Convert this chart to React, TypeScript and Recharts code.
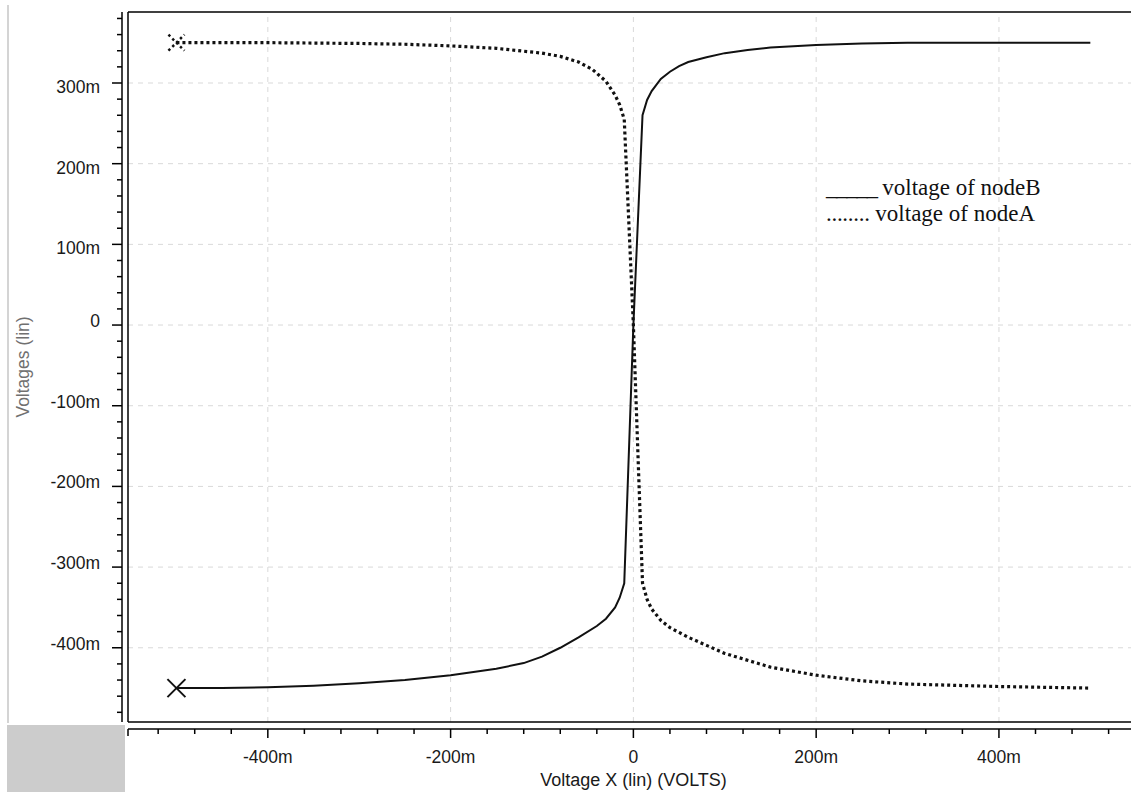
import React from 'react';
import { LineChart, Line, XAxis, YAxis, ReferenceLine } from 'recharts';

// ---- data (mV) ----
const nodeBX = [-500, -450, -400, -350, -300, -250, -200, -150, -120, -100, -80, -60, -40, -30, -20, -15, -10, 0, 10, 15, 20, 30, 40, 50, 60, 80, 100, 125, 150, 200, 250, 300, 400, 500];
const nodeBY = [-450, -450, -449, -447, -444, -440, -434, -426, -419, -411, -400, -387, -373, -364, -350, -338, -320, 0, 260, 279, 290, 305, 314, 321, 326, 332, 337, 341, 344, 347, 349, 350, 350, 350];

const nodeAX = [-500, -400, -300, -250, -200, -150, -100, -80, -60, -45, -30, -20, -15, -10, 0, 10, 15, 20, 30, 40, 50, 60, 80, 100, 150, 200, 250, 300, 400, 500];
const nodeAY = [350, 350, 349, 348, 346, 343, 337, 333, 326, 317, 302, 285, 273, 255, 0, -320, -340, -352, -366, -375, -381, -387, -397, -407, -424, -434, -441, -445, -448, -450];

const xDomain = [-553, 544.5];
const yDomain = [-492, 388];

const xTicks = [-520, -480, -440, -400, -360, -320, -280, -240, -200, -160, -120, -80, -40, 0, 40, 80, 120, 160, 200, 240, 280, 320, 360, 400, 440, 480, 520];
const xGridTicks = [-400, -200, 0, 200, 400];
const yTicks = [-480, -460, -440, -420, -400, -380, -360, -340, -320, -300, -280, -260, -240, -220, -200, -180, -160, -140, -120, -100, -80, -60, -40, -20, 0, 20, 40, 60, 80, 100, 120, 140, 160, 180, 200, 220, 240, 260, 280, 300, 320, 340, 360, 380];
const yGridTicks = [-400, -300, -200, -100, 0, 100, 200, 300];

const legendLabels = ['voltage of nodeB', 'voltage of nodeA'];
const xTitle = 'Voltage X (lin) (VOLTS)';
const yTitle = 'Voltages (lin)';

const nodeBData = nodeBX.map((x, i) => ({ x, y: nodeBY[i] }));
const nodeAData = nodeAX.map((x, i) => ({ x, y: nodeAY[i] }));

const SANS = '"Liberation Sans", Arial, sans-serif';
const SERIF = '"Liberation Serif", "Times New Roman", serif';
const GRID = '#d9d9d9';

const fmt = (v: number) => (v === 0 ? '0' : `${v}m`);

const XTick = (props: any) => {
  const { x, y, payload } = props;
  const v = payload.value;
  const edge = v === xDomain[0];
  const major = !edge && v % 200 === 0;
  const len = major ? 9 : edge ? 7 : 5;
  return (
    <g>
      <line x1={x} x2={x} y1={y} y2={y + len} stroke="#000" strokeWidth={1.5} />
      {major && (
        <text x={x} y={y + 34} textAnchor="middle" fontFamily={SANS} fontSize={17.5} fill="#1a1a1a">
          {fmt(v)}
        </text>
      )}
    </g>
  );
};

const YTick = (props: any) => {
  const { x, y, payload } = props;
  const v = payload.value;
  const major = v % 100 === 0;
  const len = major ? 10 : 5;
  return (
    <g>
      <line x1={x - len} x2={x} y1={y} y2={y} stroke="#000" strokeWidth={1.5} />
      {major && (
        <text
          x={x - 22}
          y={y + (v > 0 ? 4 : -4)}
          textAnchor="end"
          dominantBaseline="central"
          fontFamily={SANS}
          fontSize={17.5}
          fill="#1a1a1a"
        >
          {fmt(v)}
        </text>
      )}
    </g>
  );
};

const solidMarker = (props: any) => {
  const { cx, cy, index } = props;
  if (index !== 0) return <g key={`b${index}`} />;
  return (
    <g key="bmark">
      <line x1={cx - 9} y1={cy - 9} x2={cx + 9} y2={cy + 9} stroke="#111" strokeWidth={2} />
      <line x1={cx - 9} y1={cy + 9} x2={cx + 9} y2={cy - 9} stroke="#111" strokeWidth={2} />
    </g>
  );
};

const dottedMarker = (props: any) => {
  const { cx, cy, index } = props;
  if (index !== 0) return <g key={`a${index}`} />;
  return (
    <g key="amark">
      <line x1={cx - 8} y1={cy - 8} x2={cx + 8} y2={cy + 8} stroke="#111" strokeWidth={2.5} strokeDasharray="2.5 3" />
      <line x1={cx - 8} y1={cy + 8} x2={cx + 8} y2={cy - 8} stroke="#111" strokeWidth={2.5} strokeDasharray="2.5 3" />
    </g>
  );
};

export default function App() {
  return (
    <div style={{ position: 'absolute', left: 0, top: 0, width: 1131, height: 792, background: '#fff', overflow: 'hidden' }}>
      <div style={{ position: 'absolute', left: 7, top: 5, width: 1.5, height: 718, background: '#d4d4d4' }} />
      <div style={{ position: 'absolute', left: 7, top: 725, width: 118, height: 67, background: '#cccccc' }} />
      <LineChart width={1131} height={792} margin={{ top: 12, right: 0, bottom: 0, left: 0 }}>
        <XAxis
          xAxisId="border"
          orientation="bottom"
          type="number"
          dataKey="x"
          domain={xDomain}
          allowDataOverflow
          ticks={xGridTicks}
          height={7}
          tick={false}
          tickLine={false}
          axisLine={{ stroke: '#000', strokeWidth: 1.5 }}
        />
        <XAxis
          xAxisId="main"
          orientation="bottom"
          type="number"
          dataKey="x"
          domain={xDomain}
          allowDataOverflow
          ticks={[xDomain[0], ...xTicks]}
          interval={0}
          height={63}
          tickSize={0}
          tickMargin={0}
          tickLine={false}
          tick={<XTick />}
          axisLine={{ stroke: '#000', strokeWidth: 1.5 }}
          label={{
            content: (p: any) => {
              const vb = p.viewBox || {};
              return (
                <text
                  x={vb.x + vb.width / 2 + 4}
                  y={vb.y + 57}
                  textAnchor="middle"
                  fontFamily={SANS}
                  fontSize={18}
                  fill="#1a1a1a"
                >
                  {xTitle}
                </text>
              );
            },
          }}
        />
        <YAxis
          yAxisId="border"
          type="number"
          domain={yDomain}
          allowDataOverflow
          ticks={yGridTicks}
          width={6}
          tick={false}
          tickLine={false}
          axisLine={{ stroke: '#000', strokeWidth: 1.5 }}
        />
        <YAxis
          yAxisId="main"
          type="number"
          domain={yDomain}
          allowDataOverflow
          ticks={yTicks}
          interval={0}
          width={122}
          tickSize={0}
          tickMargin={0}
          tickLine={false}
          tick={<YTick />}
          axisLine={{ stroke: '#000', strokeWidth: 1.5 }}
          label={{
            content: (p: any) => {
              const vb = p.viewBox || {};
              const cx = vb.x + 23;
              const cy = vb.y + vb.height / 2;
              return (
                <text
                  x={cx}
                  y={cy}
                  transform={`rotate(-90 ${cx} ${cy})`}
                  textAnchor="middle"
                  dominantBaseline="central"
                  fontFamily={SANS}
                  fontSize={17.5}
                  fill="#707070"
                >
                  {yTitle}
                </text>
              );
            },
          }}
        />
        {xGridTicks.map((v) => (
          <ReferenceLine
            key={`gx${v}`}
            xAxisId="main"
            yAxisId="main"
            x={v}
            stroke={GRID}
            strokeWidth={1}
            strokeDasharray="5 5"
          />
        ))}
        {yGridTicks.map((v) => (
          <ReferenceLine
            key={`gy${v}`}
            xAxisId="main"
            yAxisId="main"
            y={v}
            stroke={GRID}
            strokeWidth={1}
            strokeDasharray="5 5"
          />
        ))}
        <ReferenceLine xAxisId="main" yAxisId="main" y={yDomain[1]} stroke="#000" strokeWidth={1.5} />
        <Line
          xAxisId="main"
          yAxisId="main"
          data={nodeAData}
          dataKey="y"
          type="linear"
          stroke="#111"
          strokeWidth={3.2}
          strokeDasharray="3 3"
          dot={dottedMarker}
          activeDot={false}
          isAnimationActive={false}
        />
        <Line
          xAxisId="main"
          yAxisId="main"
          data={nodeBData}
          dataKey="y"
          type="linear"
          stroke="#111"
          strokeWidth={2}
          dot={solidMarker}
          activeDot={false}
          isAnimationActive={false}
        />
      </LineChart>
      <div
        style={{
          position: 'absolute',
          left: 826,
          top: 175,
          fontFamily: SERIF,
          fontSize: 23,
          lineHeight: '26px',
          color: '#111',
          whiteSpace: 'pre',
        }}
      >
        <div>
          <span style={{ letterSpacing: -1.4 }}>_____</span> {legendLabels[0]}
        </div>
        <div>
          <span style={{ letterSpacing: -0.3 }}>........</span> {legendLabels[1]}
        </div>
      </div>
    </div>
  );
}
